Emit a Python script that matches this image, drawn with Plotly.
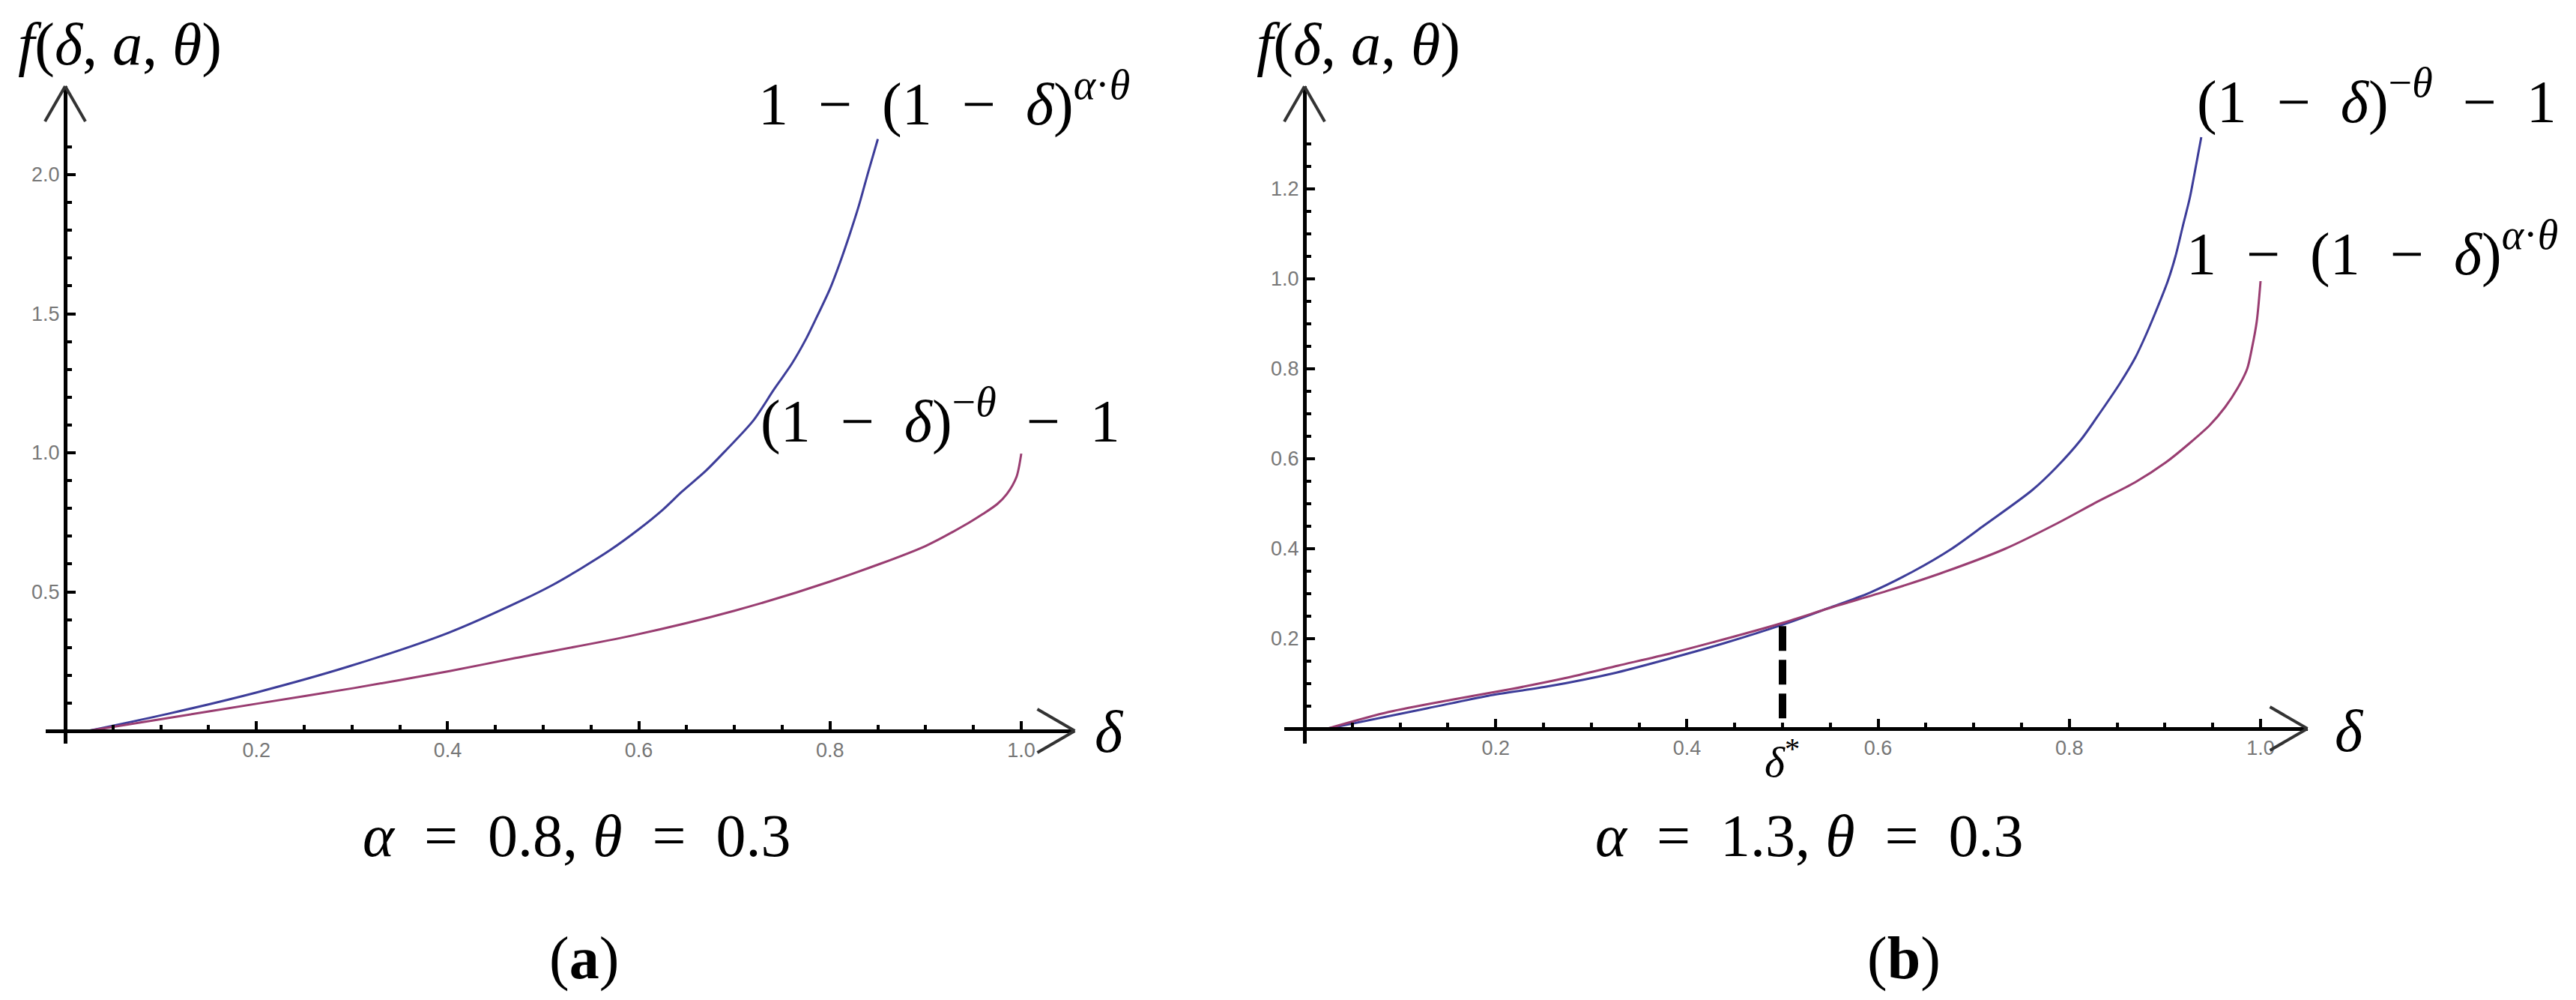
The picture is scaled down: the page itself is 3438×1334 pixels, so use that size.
import plotly.graph_objects as go

W, H = 3438, 1334

# ---- values: delta on x, f(delta, a, theta) on y ----
# panel (a): alpha = 0.8, theta = 0.3
A_BLUE_X = [0.024, 0.107, 0.201, 0.296, 0.401, 0.478, 0.510, 0.540, 0.570, 0.600, 0.625, 0.645,
            0.670, 0.690, 0.720, 0.741, 0.760, 0.775, 0.785, 0.800, 0.810, 0.821, 0.830, 0.840, 0.850]
A_BLUE_Y = [0.0, 0.061, 0.139, 0.231, 0.353, 0.470, 0.525, 0.585, 0.650, 0.725, 0.795, 0.860,
            0.935, 1.005, 1.117, 1.226, 1.320, 1.410, 1.480, 1.590, 1.680, 1.790, 1.887, 2.010, 2.128]
A_PURP_X = [0.024, 0.107, 0.201, 0.302, 0.402, 0.471, 0.592, 0.700, 0.800, 0.900,
            0.945, 0.960, 0.975, 0.985, 0.995, 1.000]
A_PURP_Y = [0.0, 0.046, 0.098, 0.154, 0.215, 0.262, 0.342, 0.432, 0.537, 0.665,
            0.748, 0.780, 0.816, 0.852, 0.913, 0.997]

# panel (b): alpha = 1.3, theta = 0.3
B_BLUE_X = [0.024, 0.128, 0.192, 0.255, 0.323, 0.384, 0.439, 0.500, 0.548, 0.591, 0.637,
            0.677, 0.711, 0.761, 0.786, 0.812, 0.833, 0.853, 0.869, 0.879, 0.890, 0.903,
            0.911, 0.919, 0.926, 0.931, 0.938]
B_BLUE_Y = [0.0, 0.045, 0.073, 0.094, 0.123, 0.157, 0.190, 0.231, 0.268, 0.302, 0.350,
            0.400, 0.452, 0.530, 0.580, 0.642, 0.705, 0.768, 0.825, 0.870, 0.925, 0.995,
            1.050, 1.120, 1.180, 1.235, 1.315]
B_PURP_X = [0.024, 0.088, 0.156, 0.216, 0.272, 0.328, 0.384, 0.436, 0.500, 0.552, 0.609,
            0.665, 0.733, 0.786, 0.828, 0.869, 0.901, 0.926, 0.947, 0.963, 0.976, 0.986,
            0.991, 0.996, 1.000]
B_PURP_Y = [0.0, 0.037, 0.065, 0.088, 0.112, 0.140, 0.168, 0.197, 0.235, 0.270, 0.306,
            0.345, 0.400, 0.455, 0.503, 0.548, 0.592, 0.635, 0.675, 0.715, 0.757, 0.800,
            0.846, 0.905, 0.995]

# delta* marker in panel (b)
DSTAR_X = [0.5, 0.5]
DSTAR_Y = [0.228, 0.0]

# ticks
X_TICKS = [0.2, 0.4, 0.6, 0.8, 1.0]
X_TICKTEXT = ["0.2", "0.4", "0.6", "0.8", "1.0"]
X_MINOR = [0.05, 0.1, 0.15, 0.25, 0.3, 0.35, 0.45, 0.5, 0.55, 0.65, 0.7, 0.75, 0.85, 0.9, 0.95]
A_Y_TICKS = [0.5, 1.0, 1.5, 2.0]
A_Y_TICKTEXT = ["0.5", "1.0", "1.5", "2.0"]
A_Y_MINOR = [0.1, 0.2, 0.3, 0.4, 0.6, 0.7, 0.8, 0.9, 1.1, 1.2, 1.3, 1.4, 1.6, 1.7, 1.8, 1.9, 2.1]
B_Y_TICKS = [0.2, 0.4, 0.6, 0.8, 1.0, 1.2]
B_Y_TICKTEXT = ["0.2", "0.4", "0.6", "0.8", "1.0", "1.2"]
B_Y_MINOR = [0.05, 0.1, 0.15, 0.25, 0.3, 0.35, 0.45, 0.5, 0.55, 0.65, 0.7, 0.75, 0.85, 0.9,
             0.95, 1.05, 1.1, 1.15, 1.25, 1.3]

BLUE = "#3d3d99"
PURPLE = "#993d71"
SERIF = "Liberation Serif, Times New Roman, serif"
TICKFONT = dict(family="Liberation Sans, Arial, sans-serif", size=27, color="#777777")

# pixel geometry of the two panels (origin, px per unit, axis extents)
LEFT = dict(ox=87, oy=975, sx=1276, sy=371, xr=(-0.02, 1.056), yr=(-0.045, 2.318))
RIGHT = dict(ox=1741, oy=972, sx=1276, sy=600, xr=(-0.021, 1.049), yr=(-0.033, 1.428))


def px(x):
    return x / W


def py(y):
    return 1 - y / H


def x_axis(p):
    return dict(domain=[px(p["ox"] + p["sx"] * p["xr"][0]), px(p["ox"] + p["sx"] * p["xr"][1])],
                range=list(p["xr"]), anchor="free", position=py(p["oy"]),
                showline=True, linecolor="black", linewidth=5,
                ticks="inside", ticklen=11, tickwidth=4, tickcolor="black",
                tickmode="array", tickvals=X_TICKS, ticktext=X_TICKTEXT, tickfont=TICKFONT,
                minor=dict(tickmode="array", tickvals=X_MINOR, ticks="inside",
                           ticklen=6, tickwidth=4, tickcolor="black"),
                showgrid=False, zeroline=False, fixedrange=True)


def y_axis(p, vals, text, minor):
    return dict(domain=[py(p["oy"] - p["sy"] * p["yr"][0]), py(p["oy"] - p["sy"] * p["yr"][1])],
                range=list(p["yr"]), anchor="free", position=px(p["ox"]),
                showline=True, linecolor="black", linewidth=5,
                ticks="inside", ticklen=11, tickwidth=4, tickcolor="black",
                tickmode="array", tickvals=vals, ticktext=text, tickfont=TICKFONT,
                minor=dict(tickmode="array", tickvals=minor, ticks="inside",
                           ticklen=6, tickwidth=4, tickcolor="black"),
                showgrid=False, zeroline=False, fixedrange=True)


def arrows(p):
    """Open arrowheads at the ends of both axes (paper coords)."""
    tx = p["ox"] + p["sx"] * p["xr"][1]
    ty = p["oy"] - p["sy"] * p["yr"][1]
    segs = [((tx, p["oy"]), (tx - 50, p["oy"] - 29)), ((tx, p["oy"]), (tx - 50, p["oy"] + 29)),
            ((p["ox"], ty), (p["ox"] - 27, ty + 47)), ((p["ox"], ty), (p["ox"] + 27, ty + 47))]
    return [dict(type="line", xref="paper", yref="paper", x0=px(a[0]), y0=py(a[1]),
                 x1=px(b[0]), y1=py(b[1]), line=dict(color="#333333", width=4))
            for a, b in segs]


def label(text, x, y, size=80):
    return dict(text=text, x=px(x), y=py(y), xref="paper", yref="paper", showarrow=False,
                xanchor="center", yanchor="middle", font=dict(family=SERIF, size=size, color="black"))


def curve(xs, ys, color, ax):
    return go.Scatter(x=xs, y=ys, mode="lines", line=dict(color=color, width=3, shape="spline", smoothing=0.8),
                      xaxis="x" + ax, yaxis="y" + ax, hoverinfo="skip")


E = "\u2002"
LAB_POW = f"1{E}−{E}(1{E}−{E}<i>δ</i>)<sup><i>α</i>·<i>θ</i></sup>"
LAB_INV = f"(1{E}−{E}<i>δ</i>)<sup>−<i>θ</i></sup>{E}−{E}1"
FLAB = "<i>f</i>(<i>δ</i>, <i>a</i>, <i>θ</i>)"

fig = go.Figure()
fig.add_trace(curve(A_BLUE_X, A_BLUE_Y, BLUE, ""))
fig.add_trace(curve(A_PURP_X, A_PURP_Y, PURPLE, ""))
fig.add_trace(curve(B_BLUE_X, B_BLUE_Y, BLUE, "2"))
fig.add_trace(curve(B_PURP_X, B_PURP_Y, PURPLE, "2"))
fig.add_trace(go.Scatter(x=DSTAR_X, y=DSTAR_Y, mode="lines",
                         line=dict(color="black", width=10, dash="33px,12px"),
                         xaxis="x2", yaxis="y2", hoverinfo="skip"))

annotations = [
    label(FLAB, 160, 60), label(FLAB, 1813, 60),
    label(LAB_POW, 1260, 133), label(LAB_INV, 1255, 556),
    label(LAB_INV, 3172, 130), label(LAB_POW, 3166, 333),
    label("<i>δ</i>", 1480, 976), label("<i>δ</i>", 3135, 975),
    label("<i>δ</i><sup>*</sup>", 2378, 1012, size=58),
    label(f"<i>α</i>{E}={E}0.8, <i>θ</i>{E}={E}0.3", 770, 1115),
    label(f"<i>α</i>{E}={E}1.3, <i>θ</i>{E}={E}0.3", 2415, 1115),
    label("(<b>a</b>)", 779, 1278), label("(<b>b</b>)", 2541, 1278),
]

fig.update_layout(
    width=W, height=H, autosize=False,
    margin=dict(l=0, r=0, t=0, b=0, pad=0),
    paper_bgcolor="white", plot_bgcolor="white",
    showlegend=False,
    xaxis=x_axis(LEFT), yaxis=y_axis(LEFT, A_Y_TICKS, A_Y_TICKTEXT, A_Y_MINOR),
    xaxis2=x_axis(RIGHT), yaxis2=y_axis(RIGHT, B_Y_TICKS, B_Y_TICKTEXT, B_Y_MINOR),
    shapes=arrows(LEFT) + arrows(RIGHT),
    annotations=annotations,
)

fig.write_html("out.html", config={"displayModeBar": False},
               post_script="document.body.style.margin='0px';document.body.style.overflow='hidden';")
